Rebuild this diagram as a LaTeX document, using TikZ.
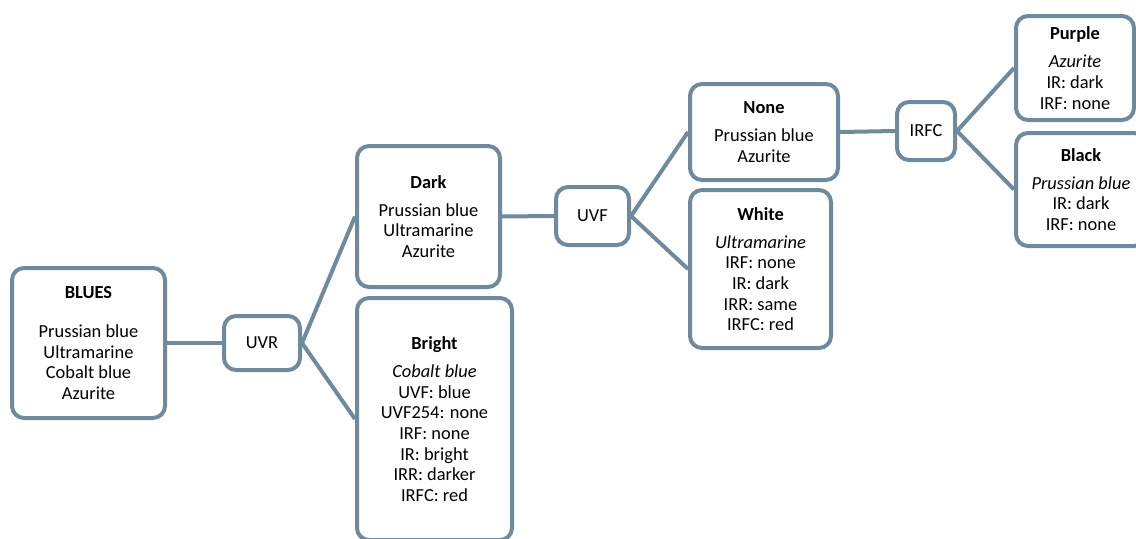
\documentclass[tikz,border=0pt]{standalone}
\usepackage{fontspec}
\setmainfont{Carlito}
\usetikzlibrary{backgrounds}
\definecolor{slate}{RGB}{110,138,156}
\tikzset{
  box/.style={draw=slate, line width=3pt, rounded corners=9pt, fill=white,
    align=center, inner sep=0pt, font=\fontsize{13.8}{15.5}\selectfont},
  link/.style={draw=slate, line width=3pt}
}
\begin{document}
\begin{tikzpicture}[x=0.75pt, y=-0.75pt]
\useasboundingbox (0,0) rectangle (1136,539);
\clip (0,0) rectangle (1136,539);

% root and first test
\node[box, minimum width=153*0.75pt, minimum height=150*0.75pt] (blues) at (88.5,343)
  {\textbf{BLUES}\\[13.7pt] Prussian blue\\ Ultramarine\\ Cobalt blue\\ Azurite};
\node[box, minimum width=76*0.75pt, minimum height=54*0.75pt] (uvr) at (262,343) {UVR};

% UVR outcomes
\node[box, minimum width=143*0.75pt, minimum height=141*0.75pt] (dark) at (428.5,216.5)
  {\textbf{Dark}\\[5.5pt] Prussian blue\\ Ultramarine\\ Azurite};
\node[box, minimum width=155*0.75pt, minimum height=242*0.75pt] (bright) at (434.5,419)
  {\textbf{Bright}\\[5.5pt] \textit{Cobalt blue}\\ UVF: blue\\ UVF254: none\\ IRF: none\\ IR: bright\\ IRR: darker\\ IRFC: red};

% UVF test and outcomes
\node[box, minimum width=73*0.75pt, minimum height=58*0.75pt] (uvf) at (592.5,216) {UVF};
\node[box, minimum width=148*0.75pt, minimum height=96*0.75pt] (none) at (764,132)
  {\textbf{None}\\[5.5pt] Prussian blue\\ Azurite};
\node[box, minimum width=141*0.75pt, minimum height=158*0.75pt] (white) at (760.5,269)
  {\textbf{White}\\[5.5pt] \textit{Ultramarine}\\ IRF: none\\ IR: dark\\ IRR: same\\ IRFC: red};

% IRFC test and outcomes
\node[box, minimum width=58*0.75pt, minimum height=58*0.75pt] (irfc) at (926,131) {IRFC};
\node[box, minimum width=118*0.75pt, minimum height=104*0.75pt] (purple) at (1075,68)
  {\textbf{Purple}\\[5.5pt] \textit{Azurite}\\ IR: dark\\ IRF: none};
\node[box, minimum width=130*0.75pt, minimum height=113*0.75pt] (black) at (1081,189.5)
  {\textbf{Black}\\[5.5pt] \textit{Prussian blue}\\ IR: dark\\ IRF: none};

\begin{scope}[on background layer]
  \draw[link] (blues.east) -- (uvr.west);
  \draw[link] (uvr.east) -- (dark.west);
  \draw[link] (uvr.east) -- (bright.west);
  \draw[link] (dark.east) -- (uvf.west);
  \draw[link] (uvf.east) -- (none.west);
  \draw[link] (uvf.east) -- (white.west);
  \draw[link] (none.east) -- (irfc.west);
  \draw[link] (irfc.east) -- (purple.west);
  \draw[link] (irfc.east) -- (black.west);
\end{scope}
\end{tikzpicture}
\end{document}
